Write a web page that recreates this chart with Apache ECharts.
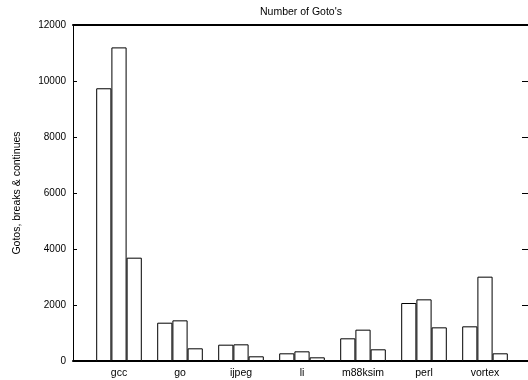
<!DOCTYPE html>
<html>
<head>
<meta charset="utf-8">
<script src="https://cdn.jsdelivr.net/npm/echarts@6/dist/echarts.min.js"></script>
<style>html,body{margin:0;padding:0;background:#fff}#c{width:528px;height:380px}</style>
</head>
<body>
<div id="c"></div>
<script>
var categories = ['gcc', 'go', 'ijpeg', 'li', 'm88ksim', 'perl', 'vortex'];
var series1 = [9740, 1368, 583, 274, 810, 2071, 1238];
var series2 = [11200, 1452, 595, 345, 1119, 2202, 3012];
var series3 = [3690, 453, 167, 131, 417, 1202, 274];
var yTicks = [0, 2000, 4000, 6000, 8000, 10000, 12000];

var FONT = 'Liberation Sans, Arial, Helvetica, sans-serif';
var chart = echarts.init(document.getElementById('c'), null, {renderer: 'canvas'});

function barSeries(name, data) {
  return {
    name: name, type: 'bar', xAxisIndex: 2, yAxisIndex: 2,
    data: data, barWidth: 15.2, barGap: '0%',
    itemStyle: {color: '#fff', borderColor: '#000', borderWidth: 1},
    silent: true, animation: false
  };
}

chart.setOption({
  animation: false,
  backgroundColor: '#fff',
  textStyle: {fontFamily: FONT},
  title: {
    text: "Number of Goto's", left: 260, top: 7, padding: 0,
    textStyle: {fontSize: 10.5, fontWeight: 'normal', color: '#000', fontFamily: FONT}
  },
  grid: [
    {left: 73, right: -3, top: 25, bottom: 19},
    {left: 88.5, right: 12.5, top: 25, bottom: 19}
  ],
  xAxis: [
    {gridIndex: 0, type: 'value', min: 0, max: 1, position: 'bottom',
     axisLine: {show: true, onZero: false, lineStyle: {color: '#000', width: 2}},
     axisTick: {show: false}, axisLabel: {show: false}, splitLine: {show: false}},
    {gridIndex: 0, type: 'value', min: 0, max: 1, position: 'top',
     axisLine: {show: true, onZero: false, lineStyle: {color: '#000', width: 2}},
     axisTick: {show: false}, axisLabel: {show: false}, splitLine: {show: false}},
    {gridIndex: 1, type: 'category', data: categories, position: 'bottom',
     axisLine: {show: false, onZero: false}, axisTick: {show: false}, splitLine: {show: false},
     axisLabel: {color: '#000', fontSize: 10.5, fontFamily: FONT, margin: 7}}
  ],
  yAxis: [
    {gridIndex: 0, type: 'value', min: 0, max: 12000, interval: 2000, position: 'left',
     name: 'Gotos, breaks & continues', nameLocation: 'middle', nameGap: 50,
     nameTextStyle: {color: '#000', fontSize: 10.5, fontFamily: FONT},
     axisLine: {show: true, onZero: false, lineStyle: {color: '#000', width: 1}},
     axisTick: {show: true, inside: true, length: 4, lineStyle: {color: '#000'}},
     axisLabel: {color: '#000', fontSize: 10, fontFamily: FONT, margin: 7,
       formatter: function (v) { return yTicks.indexOf(v) >= 0 ? String(v) : ''; }},
     splitLine: {show: false}},
    {gridIndex: 0, type: 'value', min: 0, max: 12000, interval: 2000, position: 'right',
     axisLine: {show: true, onZero: false, lineStyle: {color: '#000', width: 1}},
     axisTick: {show: true, inside: true, length: 6, lineStyle: {color: '#000'}},
     axisLabel: {show: false}, splitLine: {show: false}},
    {gridIndex: 1, type: 'value', min: 0, max: 12000, show: false, splitLine: {show: false}}
  ],
  series: [
    barSeries('s1', series1),
    barSeries('s2', series2),
    barSeries('s3', series3)
  ]
});
</script>
</body>
</html>
